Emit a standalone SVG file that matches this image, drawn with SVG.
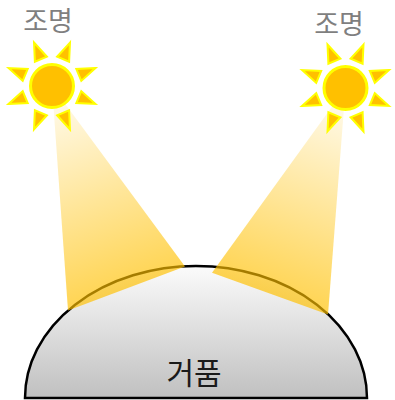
<svg xmlns="http://www.w3.org/2000/svg" xmlns:xlink="http://www.w3.org/1999/xlink" width="395" height="400" viewBox="0 0 395 400">
  <style>
    .label { font-family: "Noto Sans CJK KR", "Noto Sans", sans-serif; text-anchor: middle; }
    .lamp-label { font-size: 27px; fill: #7f7f7f; }
    .bubble-label { font-size: 30px; fill: #1a1a1a; }
    .ray { fill: #ffc000; stroke: #ffff00; stroke-width: 2; }
    .core { fill: #ffc000; stroke: #ffff00; stroke-width: 3; }
    .bubble-shape { fill: url(#bubbleFill); stroke: #000; stroke-width: 2.5; }
  </style>
  <defs>
    <linearGradient id="bubbleFill" x1="0" y1="266" x2="0" y2="398" gradientUnits="userSpaceOnUse">
      <stop offset="0" stop-color="#fbfbfb"/>
      <stop offset="1" stop-color="#c0c0c0"/>
    </linearGradient>
    <linearGradient id="beamLeft" x1="52" y1="86" x2="126" y2="290" gradientUnits="userSpaceOnUse">
      <stop offset="0" stop-color="#ffc000" stop-opacity="0.04"/>
      <stop offset="1" stop-color="#ffc000" stop-opacity="0.68"/>
    </linearGradient>
    <linearGradient id="beamRight" x1="345.5" y1="88" x2="270" y2="294" gradientUnits="userSpaceOnUse">
      <stop offset="0" stop-color="#ffc000" stop-opacity="0.04"/>
      <stop offset="1" stop-color="#ffc000" stop-opacity="0.68"/>
    </linearGradient>
    <!-- one ray pointing right; copies are rotated round the sun centre -->
    <polygon id="ray" class="ray" points="47,0 29,-6.5 29,6.5"/>
    <g id="sun">
      <use xlink:href="#ray" transform="rotate(22.5)"/>
      <use xlink:href="#ray" transform="rotate(67.5)"/>
      <use xlink:href="#ray" transform="rotate(112.5)"/>
      <use xlink:href="#ray" transform="rotate(157.5)"/>
      <use xlink:href="#ray" transform="rotate(202.5)"/>
      <use xlink:href="#ray" transform="rotate(247.5)"/>
      <use xlink:href="#ray" transform="rotate(292.5)"/>
      <use xlink:href="#ray" transform="rotate(337.5)"/>
      <circle class="core" r="21.5"/>
    </g>
  </defs>

  <!-- half-ellipse bubble -->
  <g id="bubble">
    <path class="bubble-shape" d="M25,398 A171,132 0 0 1 367,398 Z"/>
    <text class="label bubble-label" x="194" y="384">거품</text>
  </g>

  <!-- light beams from each lamp onto the bubble -->
  <g id="beams">
    <polygon points="52,86 68,310.5 185,266.5" fill="url(#beamLeft)"/>
    <polygon points="345.5,88 212,272.7 328,314.5" fill="url(#beamRight)"/>
  </g>

  <g id="lamp-left">
    <use xlink:href="#sun" transform="translate(52,86)"/>
    <text class="label lamp-label" x="48" y="31">조명</text>
  </g>

  <g id="lamp-right">
    <use xlink:href="#sun" transform="translate(345.5,88)"/>
    <text class="label lamp-label" x="339" y="34">조명</text>
  </g>
</svg>
